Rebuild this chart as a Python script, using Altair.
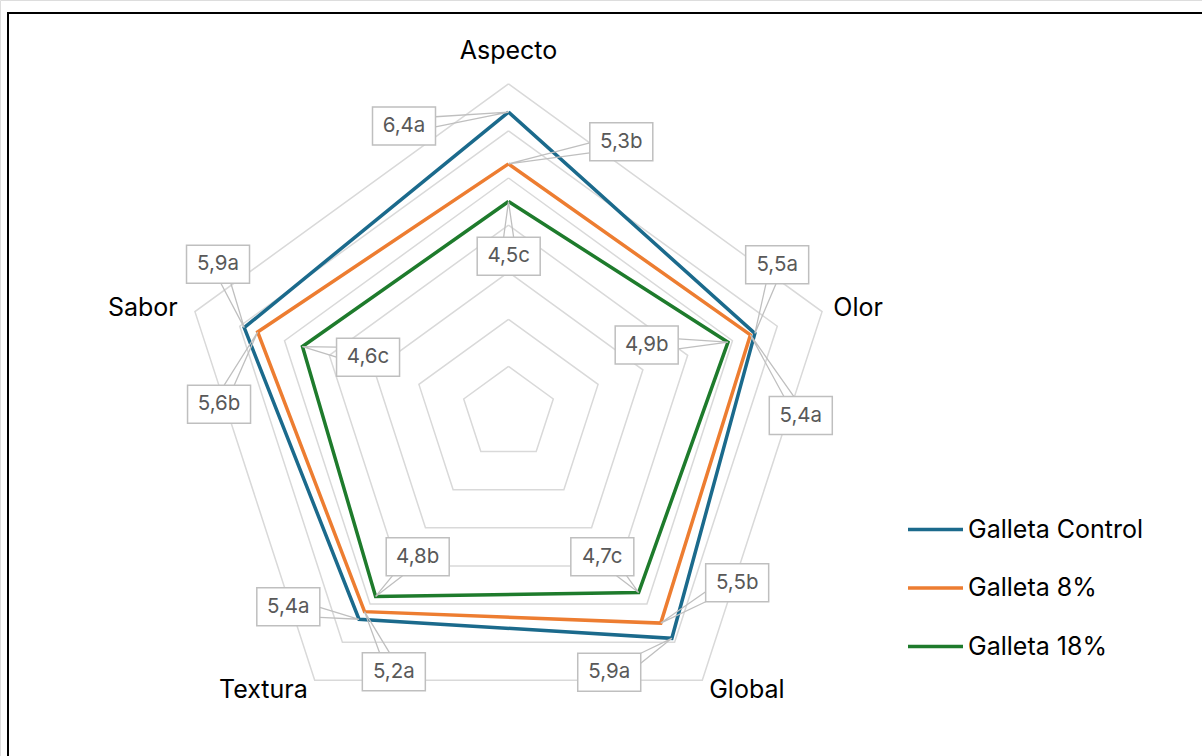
import math

import altair as alt
import pandas as pd

# ---- data -------------------------------------------------------------
categories = ["Aspecto", "Olor", "Global", "Textura", "Sabor"]
series_names = ["Galleta Control", "Galleta 8%", "Galleta 18%"]
control = [6.4, 5.5, 5.9, 5.4, 5.9]
pct8 = [5.3, 5.4, 5.5, 5.2, 5.6]
pct18 = [4.5, 4.9, 4.7, 4.8, 4.6]
letters_control = ["a", "a", "a", "a", "a"]
letters_8 = ["b", "a", "b", "a", "b"]
letters_18 = ["c", "b", "c", "b", "c"]
grid_levels = [1, 2, 3, 4, 5, 6, 7]

# ---- styling / layout -------------------------------------------------
colors = ["#1B6A8C", "#ED7D31", "#1E7B2C"]
FONT = "Inter"
CAT_SIZE = 25
VAL_SIZE = 20.5
W, H = 1202, 756
CX, CY = 508.5, 413.5          # pixel position of the radar centre
K = 47.1                       # pixels per scale unit
BOX_W, BOX_H = 63, 38          # data-label box size in pixels
LABEL_R = 7.25                 # radius of the category labels

# callout box centre, as a pixel offset from the point it describes
box_offsets = {
    (0, 0): (-104.5, 13.9), (1, 0): (112.8, -22.2), (2, 0): (0.2, 54.7),
    (0, 1): (22.3, -68.8), (1, 1): (50.4, 80.6), (2, 1): (-81.3, 2.8),
    (0, 2): (-62.6, 33.9), (1, 2): (76.4, -40.3), (2, 2): (-36.3, -35.9),
    (0, 3): (-70.7, -12.5), (1, 3): (29.3, 60.2), (2, 3): (42.1, -39.7),
    (0, 4): (-26.2, -63.4), (1, 4): (-38.6, 72.2), (2, 4): (65.6, 10.7),
}

values = [control, pct8, pct18]
letters = [letters_control, letters_8, letters_18]
n = len(categories)


def polar(r, i):
    a = 2 * math.pi * i / n
    return r * math.sin(a), r * math.cos(a)


# grid pentagons
grid_rows = []
for lev in grid_levels:
    for j in range(n + 1):
        gx, gy = polar(lev, j % n)
        grid_rows.append({"x": gx, "y": gy, "level": lev, "order": j})
grid_df = pd.DataFrame(grid_rows)

# series polygons
line_rows = []
for s, name in enumerate(series_names):
    for j in range(n + 1):
        px, py = polar(values[s][j % n], j % n)
        line_rows.append({"x": px, "y": py, "series": name, "order": j})
line_df = pd.DataFrame(line_rows)

# callout boxes and their pointers
box_rows, wedge_rows = [], []
for s in range(len(series_names)):
    for i in range(n):
        v = values[s][i]
        tx, ty = polar(v, i)
        ox, oy = box_offsets[(s, i)]
        bx, by = tx + ox / K, ty - oy / K
        hw, hh = BOX_W / 2 / K, BOX_H / 2 / K
        text = f"{v:.1f}".replace(".", ",") + letters[s][i]
        key = f"{s}-{i}"
        box_rows.append({"x": bx - hw, "x2": bx + hw, "y": by - hh, "y2": by + hh,
                         "cx": bx, "cy": by, "text": text, "key": key})
        # pointer base on the box edge that faces the point
        dx, dy = tx - bx, ty - by
        half = 5 / K
        if abs(dx) / hw > abs(dy) / hh:
            ex = hw if dx > 0 else -hw
            ey = dy * ex / dx
            ey = max(-hh + half, min(hh - half, ey))
            b1 = (bx + ex, by + ey - half)
            b2 = (bx + ex, by + ey + half)
        else:
            ey = hh if dy > 0 else -hh
            ex = dx * ey / dy
            ex = max(-hw + half, min(hw - half, ex))
            b1 = (bx + ex - half, by + ey)
            b2 = (bx + ex + half, by + ey)
        for o, (wx, wy) in enumerate([b1, (tx, ty), b2]):
            wedge_rows.append({"x": wx, "y": wy, "key": key, "order": o})
box_df = pd.DataFrame(box_rows)
wedge_df = pd.DataFrame(wedge_rows)

# category labels
cat_rows = []
for i, c in enumerate(categories):
    lx, ly = polar(LABEL_R, i)
    side = "center" if i == 0 else ("left" if lx > 0 else "right")
    cat_rows.append({"x": lx, "y": ly, "text": c, "side": side,
                     "upper": 1 if ly > 0 else 0})
cat_df = pd.DataFrame(cat_rows)

# ---- scales -------------------------------------------------------------
xs = alt.Scale(domain=[-CX / K, (W - CX) / K], nice=False, zero=False)
ys = alt.Scale(domain=[-(H - CY) / K, CY / K], nice=False, zero=False)
X = lambda f: alt.X(f"{f}:Q", scale=xs, axis=None)
Y = lambda f: alt.Y(f"{f}:Q", scale=ys, axis=None)

border = alt.Chart(pd.DataFrame({"a": [0]})).mark_rect(
    fill=None, stroke="black", strokeWidth=2
).encode(x=alt.value(8), x2=alt.value(1230), y=alt.value(13), y2=alt.value(800))

grid = alt.Chart(grid_df).mark_line(color="#D9D9D9", strokeWidth=1.5).encode(
    x=X("x"), y=Y("y"), detail="level:N", order="order:Q"
)

lines = alt.Chart(line_df).mark_line(strokeWidth=3.5, strokeJoin="miter").encode(
    x=X("x"), y=Y("y"),
    color=alt.Color(
        "series:N",
        scale=alt.Scale(domain=series_names, range=colors),
        legend=alt.Legend(
            orient="none", legendX=906, legendY=500, title=None,
            symbolType="stroke", symbolSize=3025, symbolStrokeWidth=3.5,
            labelFontSize=CAT_SIZE, labelFont=FONT, labelColor="black",
            labelOffset=3, rowPadding=15.5, padding=0, labelLimit=0,
        ),
    ),
    detail="series:N", order="order:Q",
)

wedges = alt.Chart(wedge_df).mark_line(color="#BFBFBF", strokeWidth=1.3).encode(
    x=X("x"), y=Y("y"), detail="key:N", order="order:Q"
)

boxes = alt.Chart(box_df).mark_rect(fill="white", stroke="#BFBFBF", strokeWidth=1.5).encode(
    x=X("x"), x2="x2", y=Y("y"), y2="y2"
)

box_text = alt.Chart(box_df).mark_text(font=FONT, fontSize=VAL_SIZE, color="#595959").encode(
    x=X("cx"), y=Y("cy"), text="text:N"
)

cat_base = alt.Chart(cat_df).encode(x=X("x"), y=Y("y"), text="text:N")
cat_top = cat_base.transform_filter(alt.datum.side == "center").mark_text(
    font=FONT, fontSize=CAT_SIZE, color="black", align="center", baseline="bottom", dy=-8
)
cat_left = cat_base.transform_filter(alt.datum.side == "left").mark_text(
    font=FONT, fontSize=CAT_SIZE, color="black", align="left", baseline="middle"
)
cat_right_low = cat_base.transform_filter(
    (alt.datum.side == "right") & (alt.datum.upper == 0)
).mark_text(font=FONT, fontSize=CAT_SIZE, color="black", align="right", baseline="middle")
cat_right_up = cat_base.transform_filter(
    (alt.datum.side == "right") & (alt.datum.upper == 1)
).mark_text(font=FONT, fontSize=CAT_SIZE, color="black", align="right", baseline="middle", dx=-6)

chart = alt.layer(
    border, grid, lines, wedges, boxes, box_text, cat_top, cat_left,
    cat_right_low, cat_right_up
).properties(
    width=W, height=H, padding=0, autosize=alt.AutoSizeParams(type="none")
).configure_view(stroke=None).configure(background="white")

chart.save("out.html", embed_options={"renderer": "svg", "actions": False})
